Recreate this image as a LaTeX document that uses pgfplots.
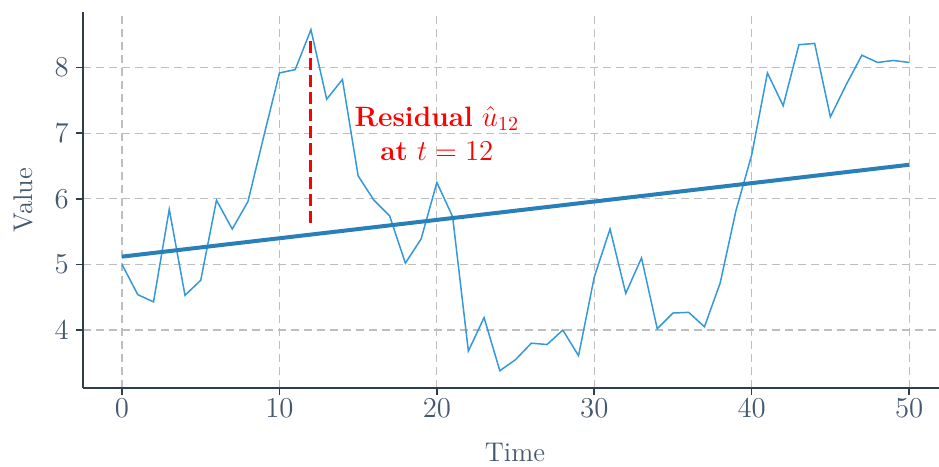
\documentclass[border=0pt]{standalone}
\usepackage{pgfplots}
\pgfplotsset{compat=1.18}
\definecolor{axiscol}{RGB}{44,62,80}
\definecolor{labcol}{RGB}{68,88,110}
\definecolor{thinblue}{RGB}{52,152,219}
\definecolor{thickblue}{RGB}{41,128,185}
\definecolor{gridcol}{RGB}{190,190,190}
\begin{document}
\begin{tikzpicture}
\begin{axis}[
  scale only axis,
  width=428pt, height=188pt,
  xmin=-2.48, xmax=51.9,
  ymin=3.117, ymax=8.849,
  axis x line*=bottom, axis y line*=left,
  axis line style={-, color=axiscol, line width=0.8pt},
  xtick={0,10,20,30,40,50},
  ytick={4,5,6,7,8},
  tick align=outside,
  major tick length=3.5pt,
  tick style={color=axiscol, line width=0.8pt},
  grid=major,
  major grid style={gridcol, line width=0.6pt, dash pattern=on 4pt off 2.5pt},
  tick label style={font=\fontsize{15}{18}\selectfont, text=labcol, inner sep=0pt},
  xticklabel style={anchor=north, yshift=-2pt},
  yticklabel style={anchor=east, xshift=-3.5pt},
  xlabel={Time},
  ylabel={Value},
  label style={font=\fontsize{13.5}{16}\selectfont, text=labcol},
  xlabel style={at={(axis description cs:0.5,0)}, anchor=center, yshift=-32pt, xshift=2pt},
  ylabel style={at={(axis description cs:-0.0701,0.5)}, anchor=center},
  clip=false,
]
\addplot[thinblue, line width=0.75pt, mark=none] coordinates {
(0,5.00) (1,4.54) (2,4.43) (3,5.84) (4,4.53) (5,4.76) (6,5.98) (7,5.54) (8,5.96) (9,6.95)
(10,7.92) (11,7.97) (12,8.58) (13,7.52) (14,7.82) (15,6.35) (16,5.98) (17,5.74) (18,5.02) (19,5.39)
(20,6.25) (21,5.73) (22,3.68) (23,4.19) (24,3.38) (25,3.55) (26,3.80) (27,3.78) (28,4.00) (29,3.61)
(30,4.81) (31,5.54) (32,4.56) (33,5.10) (34,4.02) (35,4.26) (36,4.27) (37,4.05) (38,4.72) (39,5.82)
(40,6.67) (41,7.92) (42,7.42) (43,8.35) (44,8.37) (45,7.25) (46,7.74) (47,8.19) (48,8.08) (49,8.11)
(50,8.08)
};
\addplot[thickblue, line width=2pt, mark=none] coordinates {(0,5.12) (50,6.52)};
\addplot[red, line width=1.5pt, dash pattern=on 6pt off 2.5pt, mark=none] coordinates {(12,5.63) (12,8.41)};
\node[text=red, align=center, font=\fontsize{14}{17}\selectfont] at (axis cs:20,7.0)
  {\textbf{Residual} $\hat{u}_{12}$\\ \textbf{at} $t=12$};
\end{axis}
\pgfresetboundingbox
\path ([xshift=-41.5pt,yshift=-39pt]current axis.south west) rectangle ([yshift=6pt]current axis.north east);
\end{tikzpicture}
\end{document}
